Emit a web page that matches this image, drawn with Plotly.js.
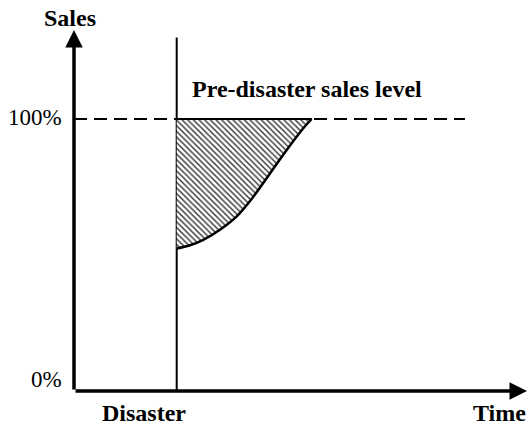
<!DOCTYPE html>
<html>
<head>
<meta charset="utf-8">
<script src="https://cdn.plot.ly/plotly-3.0.1.min.js"></script>
<style>html,body{margin:0;padding:0;background:#fff;}#chart{width:529px;height:429px;}</style>
</head>
<body>
<div id="chart"></div>
<script>
// Time (arbitrary units) and sales (% of pre-disaster level)
const disasterTime = 10.27;
const recoveryTime = [10.27, 11.6, 12.93, 14.6, 16.27, 17.93, 19.6, 21.27, 22.93, 23.77];
const recoverySales = [52.4, 53.6, 55.6, 59.3, 64.2, 71.4, 80.0, 88.6, 96.6, 100];
const preDisasterLevel = 100;
const levelLineEnd = 39.1;
const axisTimeMax = 45.3;
const axisSalesMax = 132.7;
const disasterLineTop = 130;
const labels = {
  yTitle: 'Sales', xTitle: 'Time', event: 'Disaster',
  level: 'Pre-disaster sales level', top: '100%', bottom: '0%'
};

const serif = 'Liberation Serif, Times New Roman, serif';
const traces = [
  { // dashed pre-disaster level
    x: [0, levelLineEnd], y: [preDisasterLevel, preDisasterLevel],
    mode: 'lines', line: {color: '#000', width: 2, dash: '13px,7px'}, hoverinfo: 'skip'
  },
  { // disaster vertical line
    x: [disasterTime, disasterTime], y: [0, disasterLineTop],
    mode: 'lines', line: {color: '#000', width: 2}, hoverinfo: 'skip'
  },
  { // top edge of lost-sales area
    x: [recoveryTime[0], recoveryTime[recoveryTime.length - 1]],
    y: [preDisasterLevel, preDisasterLevel],
    mode: 'lines', line: {color: '#000', width: 2}, hoverinfo: 'skip'
  },
  { // recovery curve with hatched fill
    x: recoveryTime, y: recoverySales,
    mode: 'lines', line: {color: '#000', width: 2.5, shape: 'spline', smoothing: 1},
    fill: 'tonexty', fillcolor: 'rgba(255,255,255,0)',
    fillpattern: {shape: '\\', fgcolor: '#333', bgcolor: '#fff', size: 4, solidity: 0.35},
    hoverinfo: 'skip'
  }
];

const font = (s) => ({family: serif, size: s, color: '#000'});
const arrow = (x, y) => ({x: x, y: y, ax: 0, ay: 0, axref: 'x', ayref: 'y', xref: 'x', yref: 'y',
  showarrow: true, arrowhead: 2, arrowsize: 1.0, arrowwidth: 3.5, arrowcolor: '#000', text: ''});
const label = (x, y, text, xanchor, size) => ({x: x, y: y, xref: 'x', yref: 'y', text: text,
  showarrow: false, xanchor: xanchor, yanchor: 'middle', font: font(size)});
const annotations = [
  arrow(0, axisSalesMax),
  arrow(axisTimeMax, 0),
  label(-0.45, 137.1, '<b>' + labels.yTitle + '</b>', 'center', 24),
  label(-1.0, 100.4, labels.top, 'right', 23),
  label(-1.0, 4.2, labels.bottom, 'right', 23),
  label(7.0, -8.1, '<b>' + labels.event + '</b>', 'center', 24),
  label(45.35, -8.1, '<b>' + labels.xTitle + '</b>', 'right', 24),
  label(11.6, 111.0, '<b>' + labels.level + '</b>', 'left', 24)
];

const layout = {
  width: 529, height: 429,
  margin: {l: 0, r: 0, t: 0, b: 0},
  paper_bgcolor: '#fff', plot_bgcolor: '#fff',
  showlegend: false,
  xaxis: {range: [-7.4, 45.5], visible: false, fixedrange: true},
  yaxis: {range: [-13.97, 143.75], visible: false, fixedrange: true},
  annotations: annotations
};

Plotly.newPlot('chart', traces, layout, {displayModeBar: false, staticPlot: true});
</script>
</body>
</html>
